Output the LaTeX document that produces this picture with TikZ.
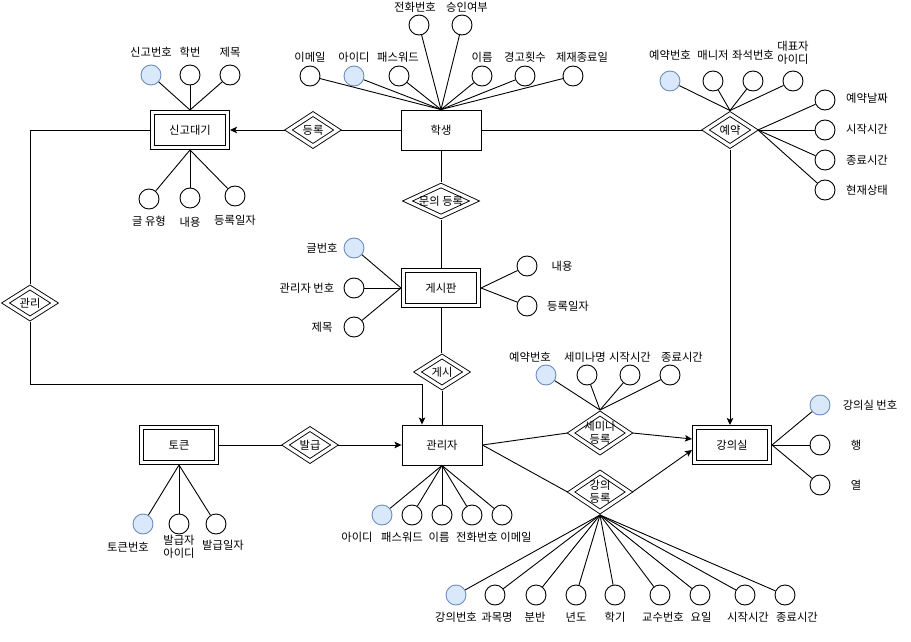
\documentclass[tikz,border=0pt]{standalone}
\usepackage{fontspec}
\setmainfont{Noto Sans CJK KR}
\usetikzlibrary{shapes.geometric,arrows.meta}
\definecolor{keyfill}{HTML}{DAE8FC}
\definecolor{keydraw}{HTML}{6C8EBF}
\tikzset{
  every node/.style={font=\fontsize{11.3}{13}\selectfont},
  ln/.style={line width=0.9pt},
  arr/.style={ln,-{Stealth[length=7pt,width=6.5pt,inset=1.5pt]}},
  entbox/.style={draw,line width=0.9pt,minimum width=80pt,minimum height=40pt,inner sep=0pt},
  wentbox/.style={draw,line width=0.9pt,double,double distance=3.2pt,minimum width=75pt,minimum height=35pt,inner sep=0pt,outer sep=2.5pt},
  relbox/.style={draw,line width=0.9pt,double,double distance=3.2pt,diamond,inner sep=0pt,outer sep=2.5pt,minimum width=51pt,minimum height=34pt},
  attr/.style={draw,circle,line width=0.9pt,minimum size=20pt,inner sep=0pt},
  keyattr/.style={attr,fill=keyfill,draw=keydraw},
  lbl/.style={inner sep=1pt,align=center}
}
\begin{document}
\begin{tikzpicture}[x=1pt,y=-1pt]
\useasboundingbox (0,0) rectangle (911,642);
% entities
\node[wentbox] (sg) at (190,130) {신고대기};
\node[entbox] (st) at (441,130) {학생};
\node[wentbox] (gp) at (441,288) {게시판};
\node[entbox] (ad) at (442,445) {관리자};
\node[wentbox] (tk) at (179,445) {토큰};
\node[wentbox] (kr) at (732,445) {강의실};
% relationships
\node[relbox,label={[lbl]center:등록}] (dr) at (313,130) {};
\node[relbox,label={[lbl]center:예약}] (ry) at (730,130) {};
\node[relbox,minimum width=69pt,minimum height=33pt,label={[lbl]center:문의 등록}] (md) at (441,201) {};
\node[relbox,minimum height=33pt,label={[lbl]center:게시}] (gs) at (442,372) {};
\node[relbox,label={[lbl]center:발급}] (bg) at (310,445) {};
\node[relbox,minimum height=33pt,label={[lbl]center:관리}] (gr) at (30,303) {};
\node[relbox,minimum width=60pt,minimum height=41pt,label={[lbl,font=\fontsize{11.3}{12.5}\selectfont]center:세미나\\등록}] (sm) at (600,433) {};
\node[relbox,minimum width=60pt,minimum height=41pt,label={[lbl,font=\fontsize{11.3}{12.5}\selectfont]center:강의\\등록}] (kg) at (600,492) {};
% relationship connectors
\draw[ln] (st.west) -- (dr.east);
\draw[arr] (dr.west) -- (sg.east);
\draw[ln] (st.east) -- (ry.west);
\draw[arr] (ry.south) -- (ry.south |- kr.north);
\draw[ln] (st.south) -- (md.north);
\draw[ln] (md.south) -- (gp.north);
\draw[ln] (gp.south) -- (gp.south |- gs.north);
\draw[ln] (gs.south) -- (ad.north);
\draw[ln] (sg.west) -| (gr.north);
\coordinate (k1) at (30,384);
\draw[arr] (gr.south) -- (k1) -| ([xshift=-20pt]ad.north);
\draw[ln] (tk.east) -- (bg.west);
\draw[arr] (bg.east) -- (ad.west);
\draw[ln] (ad.east) -- (sm.west);
\draw[arr] (sm.east) -- ([yshift=6pt]kr.west);
\draw[ln] (ad.east) -- (kg.west);
\draw[arr] (kg.east) -- ([yshift=-5pt]kr.west);
% 신고대기 attributes
\node[keyattr] (sg1) at (151,75) {};
\node[attr] (sg2) at (190,75) {};
\node[attr] (sg3) at (230,75) {};
\node[attr] (sg4) at (149,199) {};
\node[attr] (sg5) at (190,198) {};
\node[attr] (sg6) at (235,196) {};
\node[lbl] (sgl1) at (151,52) {신고번호};
\node[lbl] (sgl2) at (190,52) {학번};
\node[lbl] (sgl3) at (230,52) {제목};
\node[lbl] (sgl4) at (149,221) {글 유형};
\node[lbl] (sgl5) at (190,222) {내용};
\node[lbl] (sgl6) at (235,220) {등록일자};
\foreach \a in {sg1,sg2,sg3} \draw[ln] (\a) -- (sg.north);
\foreach \a in {sg4,sg5,sg6} \draw[ln] (\a) -- (sg.south);
% 학생 attributes
\node[attr] (st1) at (310,76) {};
\node[keyattr] (st2) at (354,76) {};
\node[attr] (st3) at (399,76) {};
\node[attr] (st4) at (419,25) {};
\node[attr] (st5) at (462,25) {};
\node[attr] (st6) at (482,76) {};
\node[attr] (st7) at (525,76) {};
\node[attr] (st8) at (573,76) {};
\node[lbl] (stl1) at (310,57) {이메일};
\node[lbl] (stl2) at (354,57) {아이디};
\node[lbl] (stl3) at (398,57) {패스워드};
\node[lbl] (stl4) at (415,7) {전화번호};
\node[lbl] (stl5) at (467,7) {승인여부};
\node[lbl] (stl6) at (482,57) {이름};
\node[lbl] (stl7) at (525,57) {경고횟수};
\node[lbl] (stl8) at (582,57) {제재종료일};
\foreach \a in {st1,st2,st3,st4,st5,st6,st7,st8} \draw[ln] (\a) -- (st.north);
% 예약 attributes
\node[keyattr] (ry1) at (670,81) {};
\node[attr] (ry2) at (713,81) {};
\node[attr] (ry3) at (753,81) {};
\node[attr] (ry4) at (793,81) {};
\node[attr] (ry5) at (825,100) {};
\node[attr] (ry6) at (825,130) {};
\node[attr] (ry7) at (825,160) {};
\node[attr] (ry8) at (825,190) {};
\node[lbl] (ryl1) at (670,55) {예약번호};
\node[lbl] (ryl2) at (713,55) {매니저};
\node[lbl] (ryl3) at (753,55) {좌석번호};
\node[lbl,font=\fontsize{11.3}{12.5}\selectfont] (ryl4) at (793,53) {대표자\\아이디};
\node[lbl] (ryl5) at (867,98) {예약날짜};
\node[lbl] (ryl6) at (867,129) {시작시간};
\node[lbl] (ryl7) at (867,160) {종료시간};
\node[lbl] (ryl8) at (867,190) {현재상태};
\foreach \a in {ry1,ry2,ry3,ry4} \draw[ln] (\a) -- (ry.north);
\foreach \a in {ry5,ry6,ry7,ry8} \draw[ln] (\a) -- (ry.east);
% 게시판 attributes
\node[keyattr] (gp1) at (354,248) {};
\node[attr] (gp2) at (354,288) {};
\node[attr] (gp3) at (354,327) {};
\node[attr] (gp4) at (527,266) {};
\node[attr] (gp5) at (527,306) {};
\node[lbl] (gpl1) at (322,248) {글번호};
\node[lbl] (gpl2) at (307,288) {관리자 번호};
\node[lbl] (gpl3) at (322,327) {제목};
\node[lbl] (gpl4) at (562,266) {내용};
\node[lbl] (gpl5) at (568,306) {등록일자};
\foreach \a in {gp1,gp2,gp3} \draw[ln] (\a) -- (gp.west);
\foreach \a in {gp4,gp5} \draw[ln] (\a) -- (gp.east);
% 세미나 등록 attributes
\node[keyattr] (sm1) at (546,375) {};
\node[attr] (sm2) at (587,375) {};
\node[attr] (sm3) at (630,375) {};
\node[attr] (sm4) at (670,375) {};
\node[lbl] (sml1) at (530,357) {예약번호};
\node[lbl] (sml2) at (585,357) {세미나명};
\node[lbl] (sml3) at (630,357) {시작시간};
\node[lbl] (sml4) at (682,357) {종료시간};
\foreach \a in {sm1,sm2,sm3,sm4} \draw[ln] (\a) -- (sm.north);
% 관리자 attributes
\node[keyattr] (ad1) at (382,515) {};
\node[attr] (ad2) at (412,515) {};
\node[attr] (ad3) at (442,515) {};
\node[attr] (ad4) at (472,515) {};
\node[attr] (ad5) at (502,515) {};
\node[lbl] (adl1) at (357,537) {아이디};
\node[lbl] (adl2) at (402,537) {패스워드};
\node[lbl] (adl3) at (439,537) {이름};
\node[lbl] (adl4) at (477,537) {전화번호};
\node[lbl] (adl5) at (516,537) {이메일};
\foreach \a in {ad1,ad2,ad3,ad4,ad5} \draw[ln] (\a) -- (ad.south);
% 토큰 attributes
\node[keyattr] (tk1) at (143,524) {};
\node[attr] (tk2) at (179,524) {};
\node[attr] (tk3) at (216,524) {};
\node[lbl] (tkl1) at (128,547) {토큰번호};
\node[lbl,font=\fontsize{11.3}{12.5}\selectfont] (tkl2) at (179,547) {발급자\\아이디};
\node[lbl] (tkl3) at (223,545) {발급일자};
\foreach \a in {tk1,tk2,tk3} \draw[ln] (\a) -- (tk.south);
% 강의 등록 attributes
\node[keyattr] (kg1) at (456,595) {};
\node[attr] (kg2) at (495,595) {};
\node[attr] (kg3) at (536,595) {};
\node[attr] (kg4) at (576,595) {};
\node[attr] (kg5) at (615,595) {};
\node[attr] (kg6) at (660,595) {};
\node[attr] (kg7) at (700,595) {};
\node[attr] (kg8) at (745,595) {};
\node[attr] (kg9) at (785,595) {};
\node[lbl] (kgl1) at (456,617) {강의번호};
\node[lbl] (kgl2) at (497,617) {과목명};
\node[lbl] (kgl3) at (535,617) {분반};
\node[lbl] (kgl4) at (576,617) {년도};
\node[lbl] (kgl5) at (615,617) {학기};
\node[lbl] (kgl6) at (663,617) {교수번호};
\node[lbl] (kgl7) at (701,617) {요일};
\node[lbl] (kgl8) at (748,617) {시작시간};
\node[lbl] (kgl9) at (797,617) {종료시간};
\foreach \a in {kg1,kg2,kg3,kg4,kg5,kg6,kg7,kg8,kg9} \draw[ln] (\a) -- (kg.south);
% 강의실 attributes
\node[keyattr] (kr1) at (820,405) {};
\node[attr] (kr2) at (820,445) {};
\node[attr] (kr3) at (820,485) {};
\node[lbl] (krl1) at (870,405) {강의실 번호};
\node[lbl] (krl2) at (856,445) {행};
\node[lbl] (krl3) at (856,485) {열};
\foreach \a in {kr1,kr2,kr3} \draw[ln] (\a) -- (kr.east);
\end{tikzpicture}
\end{document}
